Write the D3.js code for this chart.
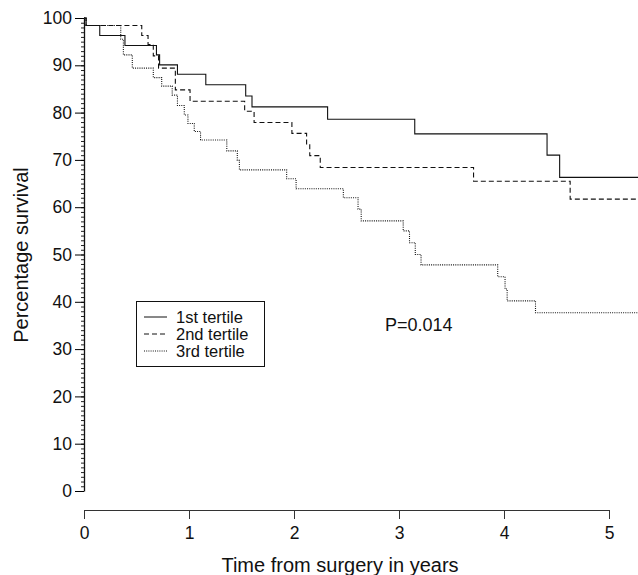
<!DOCTYPE html>
<html>
<head>
<meta charset="utf-8">
<script src="https://cdn.jsdelivr.net/npm/d3@7"></script>
<style>
  body { margin: 0; background: #fff; }
  text { font-family: "Liberation Sans", Arial, sans-serif; fill: #111; }
</style>
</head>
<body>
<div id="chart"></div>
<script>
// Kaplan-Meier steps: time (years) and % survival after each step
var t1 = [0, 0.02, 0.15, 0.39, 0.69, 0.72, 0.89, 1.16, 1.54, 1.60, 2.32, 3.15, 4.41, 4.53, 5.3];
var s1 = [100, 98.4, 96.3, 94.2, 92.2, 90.1, 88.1, 85.9, 83.5, 81.2, 78.6, 75.5, 71.0, 66.3, 66.3];

var t2 = [0, 0.02, 0.55, 0.61, 0.66, 0.71, 0.87, 1.01, 1.53, 1.62, 1.98, 2.12, 2.15, 2.25, 3.71, 4.63, 5.3];
var s2 = [100, 98.4, 96.3, 94.4, 92.0, 89.4, 84.8, 82.4, 80.3, 77.9, 75.6, 73.2, 70.9, 68.4, 65.5, 61.7, 61.7];

var t3 = [0, 0.02, 0.35, 0.375, 0.46, 0.66, 0.74, 0.84, 0.89, 0.955, 0.99, 1.05, 1.11, 1.36, 1.46, 1.48,
          1.93, 2.02, 2.47, 2.61, 2.64, 3.04, 3.10, 3.155, 3.21, 3.94, 4.01, 4.03, 4.30, 5.3];
var s3 = [100, 98.4, 95.5, 92.2, 89.4, 87.4, 85.6, 83.7, 81.5, 79.5, 77.7, 76.0, 74.2, 71.9, 69.9, 67.9,
          66.0, 63.9, 62.0, 59.6, 57.1, 55.0, 52.5, 50.0, 47.8, 45.3, 42.7, 40.2, 37.7, 37.7];

var seriesNames = ["1st tertile", "2nd tertile", "3rd tertile"];
var dashes = [null, "5,3", "1,1.2"];
var xTicks = [0, 1, 2, 3, 4, 5];
var yTicks = [0, 10, 20, 30, 40, 50, 60, 70, 80, 90, 100];
var pLabel = "P=0.014";

var width = 638, height = 575;

var svg = d3.select("#chart").append("svg")
    .attr("width", width)
    .attr("height", height);

var x = d3.scaleLinear().domain([0, 5]).range([84, 609]);
var y = d3.scaleLinear().domain([0, 100]).range([491, 18]);

// y axis: minor ticks every unit, then major ticks with labels
var yAxisG = svg.append("g").attr("transform", "translate(84,0)");
yAxisG.call(d3.axisLeft(y).tickValues(d3.range(0, 101, 1)).tickSize(3).tickFormat(""))
yAxisG.select(".domain").remove();
yAxisG.selectAll("line").attr("stroke", "#222");
var yMajor = svg.append("g").attr("transform", "translate(84,0)")
    .call(d3.axisLeft(y).tickValues(yTicks).tickSize(9).tickSizeOuter(0).tickPadding(3));
yMajor.select(".domain").attr("stroke", "#111").attr("stroke-width", 1.3);
yMajor.selectAll("text").attr("font-size", 17.5).attr("font-family", "Liberation Sans, Arial, sans-serif").attr("fill", "#111");

// x axis, offset below the plot
var xAxisG = svg.append("g").attr("transform", "translate(0,510)")
    .call(d3.axisBottom(x).tickValues(xTicks).tickFormat(d3.format("d")).tickSize(9).tickSizeOuter(0).tickPadding(8));
xAxisG.select(".domain").attr("stroke", "#333");
xAxisG.selectAll("line").attr("stroke", "#333");
xAxisG.selectAll("text").attr("font-size", 17.5).attr("font-family", "Liberation Sans, Arial, sans-serif").attr("fill", "#111");

svg.append("text")
    .attr("x", 340).attr("y", 572)
    .attr("text-anchor", "middle")
    .attr("font-size", 20)
    .text("Time from surgery in years");

svg.append("text")
    .attr("transform", "translate(28,255) rotate(-90)")
    .attr("text-anchor", "middle")
    .attr("font-size", 20)
    .text("Percentage survival");

var line = d3.line()
    .x(function(d) { return x(d[0]); })
    .y(function(d) { return y(d[1]); })
    .curve(d3.curveStepAfter);

var curves = [d3.zip(t1, s1), d3.zip(t2, s2), d3.zip(t3, s3)];

svg.selectAll(".km")
    .data(curves)
    .enter().append("path")
    .attr("class", "km")
    .attr("d", line)
    .attr("fill", "none")
    .attr("stroke", "#111")
    .attr("stroke-width", 1.1)
    .attr("stroke-dasharray", function(d, i) { return dashes[i]; });

// legend
var lg = svg.append("g");
lg.append("rect")
    .attr("x", 136.5).attr("y", 301.5)
    .attr("width", 128).attr("height", 65)
    .attr("fill", "#fff").attr("stroke", "#111");
seriesNames.forEach(function(name, i) {
    var cy = 317 + i * 17;
    lg.append("line")
        .attr("x1", 144).attr("x2", 167)
        .attr("y1", cy).attr("y2", cy)
        .attr("stroke", "#111").attr("stroke-width", 1)
        .attr("stroke-dasharray", dashes[i]);
    lg.append("text")
        .attr("x", 176).attr("y", cy + 5.5)
        .attr("font-size", 16.5)
        .text(name);
});

svg.append("text")
    .attr("x", 385).attr("y", 331)
    .attr("font-size", 18)
    .text(pLabel);
</script>
</body>
</html>
